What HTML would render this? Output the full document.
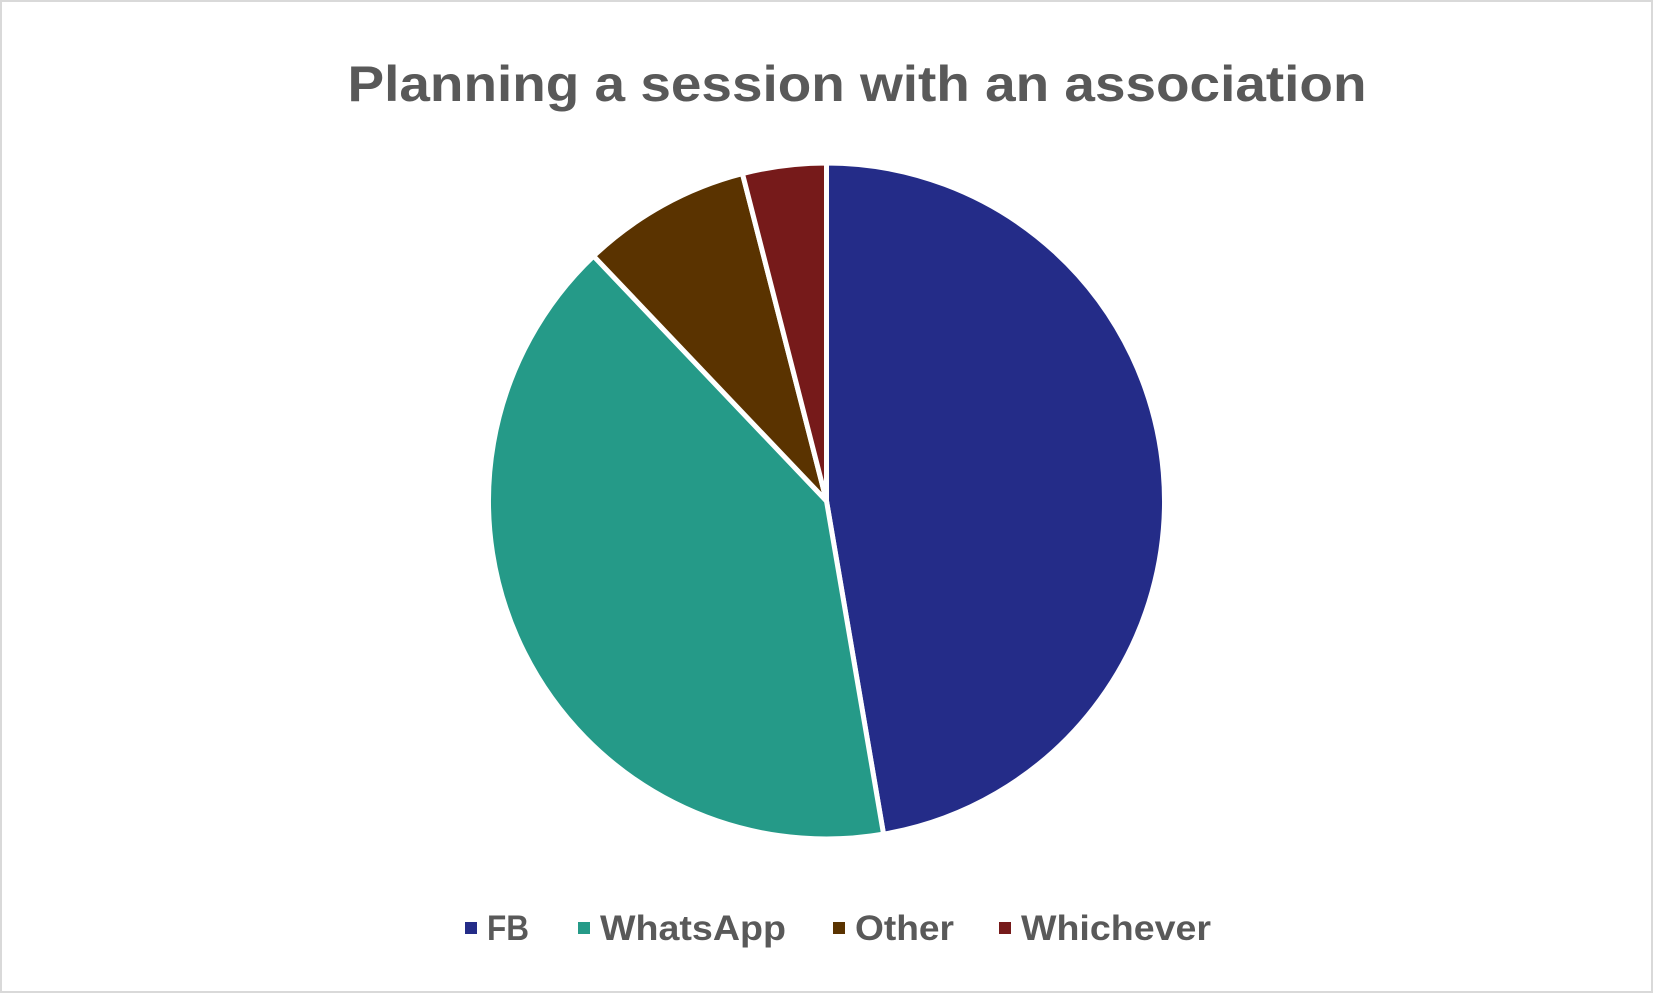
<!DOCTYPE html>
<html><head><meta charset="utf-8"><style>
html,body{margin:0;padding:0;background:#fff}
svg{display:block;font-family:"Liberation Sans",sans-serif}
</style></head><body>
<svg id="chart" width="1653" height="993" viewBox="0 0 1653 993">
<rect x="1" y="1" width="1651" height="991" fill="#fff" stroke="#d9d9d9" stroke-width="2"/>
<text x="857" y="101" text-anchor="middle" font-size="50" font-weight="bold" fill="#595959" textLength="1019" lengthAdjust="spacingAndGlyphs">Planning a session with an association</text>
<g id="slices"></g>
<g id="legend"></g>
</svg>
<script>
const categories = ["FB", "WhatsApp", "Other", "Whichever"];
const values = [47.3, 40.6, 8.1, 4.0];
const colors = ["#242c88", "#259a88", "#5a3300", "#761a1a"];
const ns = "http://www.w3.org/2000/svg";
const cx = 826.5, cy = 501, r = 338;
const total = values.reduce((a, b) => a + b, 0);
const g = document.getElementById('slices');
let a0 = 0;
values.forEach((v, i) => {
  const a1 = a0 + v / total * Math.PI * 2;
  const x0 = cx + r * Math.sin(a0), y0 = cy - r * Math.cos(a0);
  const x1 = cx + r * Math.sin(a1), y1 = cy - r * Math.cos(a1);
  const large = (a1 - a0) > Math.PI ? 1 : 0;
  const p = document.createElementNS(ns, 'path');
  p.setAttribute('d', `M${cx},${cy} L${x0},${y0} A${r},${r} 0 ${large} 1 ${x1},${y1} Z`);
  p.setAttribute('fill', colors[i]);
  p.setAttribute('stroke', '#fff');
  p.setAttribute('stroke-width', '5');
  p.setAttribute('stroke-linejoin', 'round');
  
  
  g.appendChild(p);
  a0 = a1;
});
const lg = document.getElementById('legend');
const legX = [465, 578, 833, 999];
const legW = [42, 186, 99, 190];
categories.forEach((c, i) => {
  const item = document.createElementNS(ns, 'g');
  
  
  const s = document.createElementNS(ns, 'rect');
  s.setAttribute('x', legX[i]); s.setAttribute('y', 922);
  s.setAttribute('width', 12); s.setAttribute('height', 12);
  s.setAttribute('fill', colors[i]);
  
  
  const t = document.createElementNS(ns, 'text');
  t.setAttribute('x', legX[i] + 22); t.setAttribute('y', 940);
  t.setAttribute('font-size', '35'); t.setAttribute('font-weight', 'bold');
  t.setAttribute('fill', '#595959');
  t.setAttribute('textLength', legW[i]);
  t.setAttribute('lengthAdjust', 'spacingAndGlyphs');
  t.textContent = c;
  
  
  item.appendChild(s); item.appendChild(t);
  lg.appendChild(item);
});
</script>
</body></html>
